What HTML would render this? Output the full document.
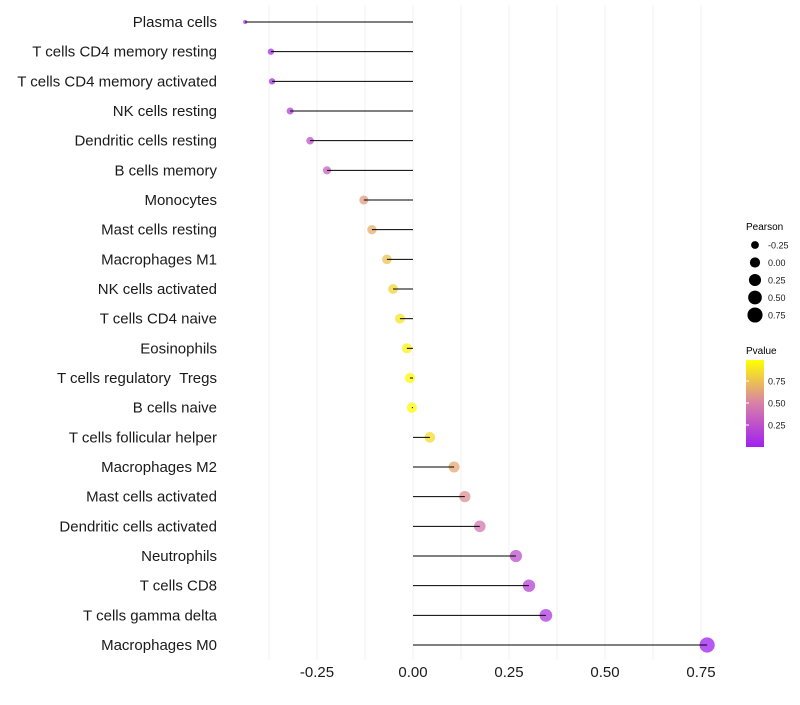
<!DOCTYPE html>
<html><head><meta charset="utf-8">
<style>
body{margin:0;background:#fff;font-family:"Liberation Sans",sans-serif;}
svg text{font-family:"Liberation Sans",sans-serif;}
</style></head>
<body>
<svg id="chart" width="800" height="700">
<defs>
<linearGradient id="pg" x1="0" y1="1" x2="0" y2="0">
<stop offset="0" stop-color="#a020f0"/>
<stop offset="0.5" stop-color="#d880a8"/>
<stop offset="1" stop-color="#ffff00"/>
</linearGradient>
</defs>
<g id="grid"></g>
<g id="marks"></g>
<g id="ylabels"></g>
<g id="xlabels"></g>
<g id="legend">
<text x="746" y="230" font-size="10">Pearson</text>
<g id="sizeLegend"></g>
<text x="746" y="354" font-size="10">Pvalue</text>
<rect x="746" y="360" width="18" height="87" fill="url(#pg)"/>
<g id="colorLegend"></g>
</g>
</svg>
<script>
const categories=["Plasma cells","T cells CD4 memory resting","T cells CD4 memory activated","NK cells resting","Dendritic cells resting","B cells memory","Monocytes","Mast cells resting","Macrophages M1","NK cells activated","T cells CD4 naive","Eosinophils","T cells regulatory\u00a0\u00a0Tregs","B cells naive","T cells follicular helper","Macrophages M2","Mast cells activated","Dendritic cells activated","Neutrophils","T cells CD8","T cells gamma delta","Macrophages M0"];
const pearson=[-0.437,-0.37,-0.367,-0.32,-0.268,-0.224,-0.128,-0.107,-0.068,-0.052,-0.034,-0.016,-0.008,-0.003,0.044,0.107,0.135,0.174,0.268,0.302,0.346,0.766];
const pvalue=[0.05,0.08,0.09,0.17,0.26,0.34,0.62,0.68,0.76,0.83,0.9,0.95,0.98,0.99,0.86,0.66,0.56,0.45,0.25,0.18,0.13,0.001];
const xTicks=[-0.25,0,0.25,0.5,0.75];
const xTickLabels=["-0.25","0.00","0.25","0.50","0.75"];
const sizeLegendVals=[-0.25,0,0.25,0.5,0.75];
const colorLegendVals=[0.25,0.5,0.75];

const NS="http://www.w3.org/2000/svg";
const x=v=>413+v*384;
const y=i=>22+i*(623/21);
const r=v=>Math.sqrt(Math.max(1,20.4+37.2*v))+(v>-0.42?0.6:0);
function lerp(a,b,t){return a.map((c,k)=>Math.round(c+(b[k]-c)*t));}
function col(p){const P=[160,32,240],M=[216,128,168],Y=[255,255,0];
 const c=p<0.5?lerp(P,M,p/0.5):lerp(M,Y,(p-0.5)/0.5);return `rgb(${c.join(',')})`;}
function mk(tag,attrs,parent){const e=document.createElementNS(NS,tag);for(const k in attrs)e.setAttribute(k,attrs[k]);parent.appendChild(e);return e;}

const grid=document.getElementById('grid');
for(let v=-0.375;v<=0.8;v+=0.125){
 const g=mk('line',{x1:x(v),x2:x(v),y1:5,y2:660,stroke:'#f0f0f0','stroke-width':1},grid);
 
 
}
const marks=document.getElementById('marks');
const yl=document.getElementById('ylabels');
categories.forEach((c,i)=>{
 const pt=mk('circle',{cx:x(pearson[i]),cy:y(i),r:r(pearson[i]),fill:col(pvalue[i]),'fill-opacity':0.75},marks);
 
 
 const ln=mk('line',{x1:x(0),x2:x(pearson[i]),y1:y(i),y2:y(i),stroke:'#000','stroke-width':1},marks);
 
 
 const t=mk('text',{x:217,y:y(i)+5,'text-anchor':'end','font-size':15,fill:'#1a1a1a'},yl);
 t.textContent=c;
 
 
});
const xl=document.getElementById('xlabels');
xTicks.forEach((v,i)=>{
 const t=mk('text',{x:x(v),y:677,'text-anchor':'middle','font-size':15,fill:'#1a1a1a'},xl);
 t.textContent=xTickLabels[i];
 
 
});
const sl=document.getElementById('sizeLegend');
sizeLegendVals.forEach((v,i)=>{
 const cy=245+i*17.5;
 const c=mk('circle',{cx:755,cy:cy,r:r(v),fill:'#000'},sl);
 
 
 const t=mk('text',{x:768,y:cy+3.5,'font-size':9,fill:'#1a1a1a'},sl);
 t.textContent=v===-0.25?'-0.25':v.toFixed(2);
 
 
});
const cl=document.getElementById('colorLegend');
colorLegendVals.forEach(v=>{
 const cy=447-v*88;
 const t=mk('text',{x:768,y:cy+3.5,'font-size':9,fill:'#1a1a1a'},cl);
 t.textContent=v.toFixed(2);
 
 
 const tk=mk('line',{x1:746,x2:749,y1:cy,y2:cy,stroke:'#fff'},cl);
 
 
});
</script>
</body></html>
